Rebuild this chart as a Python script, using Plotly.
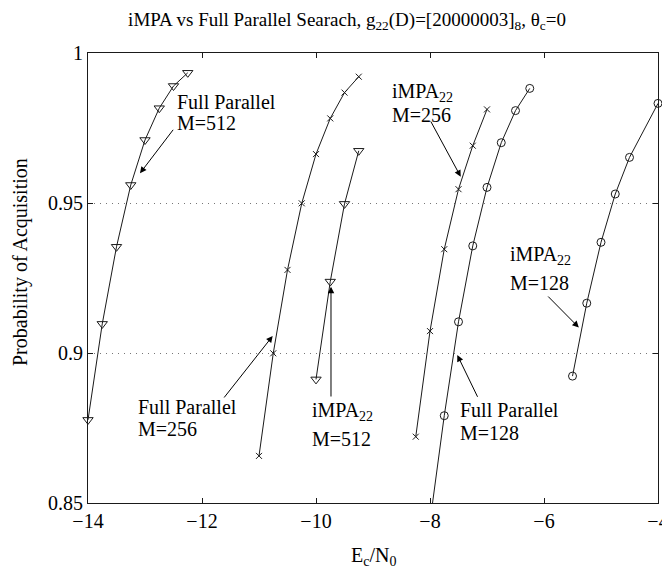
import plotly.graph_objects as go

# Probability of acquisition vs Ec/N0 for each search scheme
fp512_x = [-14, -13.75, -13.5, -13.25, -13, -12.75, -12.5, -12.25]
fp512_y = [0.8777, 0.9097, 0.9354, 0.956, 0.971, 0.9816, 0.989, 0.9934]

fp256_x = [-11, -10.75, -10.5, -10.25, -10, -9.75, -9.5, -9.25]
fp256_y = [0.8657, 0.8999, 0.9277, 0.9499, 0.9663, 0.9782, 0.9868, 0.9921]

impa512_x = [-10, -9.75, -9.5, -9.25]
impa512_y = [0.8912, 0.9238, 0.9497, 0.9674]

impa256_x = [-8.25, -8, -7.75, -7.5, -7.25, -7]
impa256_y = [0.8721, 0.9073, 0.9346, 0.9546, 0.9691, 0.9812]

fp128_x = [-8, -7.75, -7.5, -7.25, -7, -6.75, -6.5, -6.25]
fp128_y = [0.8437, 0.8791, 0.9104, 0.9357, 0.9552, 0.9701, 0.9808, 0.9882]

impa128_x = [-5.5, -5.25, -5, -4.75, -4.5, -4]
impa128_y = [0.8923, 0.9166, 0.9369, 0.953, 0.9652, 0.9832]

x_ticks = [-14, -12, -10, -8, -6, -4]
y_ticks = [0.85, 0.9, 0.95, 1.0]
y_tick_text = ["0.85", "0.9", "0.95", "1"]

FONT = "Liberation Serif, Times New Roman, serif"
INK = "#1a1a1a"

fig = go.Figure()

series = [
    (fp512_x, fp512_y, "triangle-down-open", 9, False),
    (fp256_x, fp256_y, "x-thin-open", 6, False),
    (impa512_x, impa512_y, "triangle-down-open", 9, False),
    (impa256_x, impa256_y, "x-thin-open", 6, False),
    (fp128_x, fp128_y, "circle-open", 8, True),
    (impa128_x, impa128_y, "circle-open", 8, False),
]
for xs, ys, sym, size, clip in series:
    fig.add_trace(go.Scatter(
        x=xs, y=ys, mode="lines+markers",
        line=dict(color=INK, width=1),
        marker=dict(symbol=sym, size=size, color=INK, line=dict(color=INK, width=1)),
        cliponaxis=clip, showlegend=False,
    ))

# Curve labels: (x_left, y_line1, y_line2, line1, line2)
labels = [
    (-12.474, 0.98377, 0.97667, "Full Parallel", "M=512"),
    (-13.158, 0.88210, 0.87457, "Full Parallel", "M=256"),
    (-10.105, 0.88050, 0.87123, "iMPA<sub>22</sub>", "M=512"),
    (-8.702, 0.98690, 0.97933, "iMPA<sub>22</sub>", "M=256"),
    (-7.503, 0.88100, 0.87343, "Full Parallel", "M=128"),
    (-6.626, 0.93260, 0.92323, "iMPA<sub>22</sub>", "M=128"),
]
# Arrows: (tail_x, tail_y, head_x, head_y)
arrows = [
    (-12.486, 0.9749, -13.088, 0.9599),
    (-11.632, 0.88467, -10.760, 0.90567),
    (-9.737, 0.8850, -9.737, 0.9221),
    (-8.000, 0.97767, -7.461, 0.95877),
    (-7.153, 0.8849, -7.521, 0.89933),
    (-5.953, 0.91933, -5.389, 0.9085),
]

annotations = []
for xl, y1, y2, t1, t2 in labels:
    for yy, tt in ((y1, t1), (y2, t2)):
        annotations.append(dict(
            x=xl, y=yy, xref="x", yref="y", text=tt, showarrow=False,
            xanchor="left", yanchor="middle",
            font=dict(family=FONT, size=20, color="black"),
        ))
for tx, ty, hx, hy in arrows:
    annotations.append(dict(
        x=hx, y=hy, ax=tx, ay=ty, xref="x", yref="y", axref="x", ayref="y",
        text="", showarrow=True, arrowhead=2, arrowsize=1.3, arrowwidth=1,
        arrowcolor="black", standoff=0, startstandoff=0,
    ))

# Axis titles, placed in paper coordinates (relative to the plot area)
pw, ph = 662 - 88 - 4, 570 - 53 - 67
annotations.append(dict(
    x=(20 - 88) / pw, y=(503 - 262) / ph, xref="paper", yref="paper",
    text="Probability of Acquisition", textangle=-90, showarrow=False,
    font=dict(family=FONT, size=20, color="black"),
    xanchor="center", yanchor="middle",
))
annotations.append(dict(
    x=(373 - 88) / pw, y=(503 - 556) / ph, xref="paper", yref="paper",
    text="E<sub>c</sub>/N<sub>0</sub>", showarrow=False,
    font=dict(family=FONT, size=20, color="black"),
    xanchor="center", yanchor="middle",
))

fig.update_layout(
    width=662, height=570,
    margin=dict(l=88, r=4, t=53, b=67, autoexpand=False),
    paper_bgcolor="white", plot_bgcolor="white",
    title=dict(
        text="iMPA vs Full Parallel Searach, g<sub>22</sub>(D)=[20000003]<sub>8</sub>, θ<sub>c</sub>=0",
        x=347 / 662, xref="container", xanchor="center",
        y=1 - 19 / 570, yref="container", yanchor="middle",
        font=dict(family=FONT, size=19, color="black"),
    ),
    annotations=annotations,
    xaxis=dict(
        range=[-14, -4], tickvals=x_ticks, ticks="inside", ticklen=5,
        tickcolor=INK, showline=True, linecolor=INK, linewidth=1, mirror="ticks",
        showgrid=False, zeroline=False, ticklabeloverflow="allow", automargin=False,
        tickfont=dict(family=FONT, size=20, color="black"),
    ),
    yaxis=dict(
        range=[0.85, 1.0], tickvals=y_ticks, ticktext=y_tick_text, ticks="inside",
        ticklen=5, tickcolor=INK, showline=True, linecolor=INK, linewidth=1,
        mirror="ticks", showgrid=True, gridcolor="#777", gridwidth=1,
        griddash="1px,5px", zeroline=False, automargin=False,
        tickfont=dict(family=FONT, size=20, color="black"),
    ),
)

fig.write_html("out.html")
